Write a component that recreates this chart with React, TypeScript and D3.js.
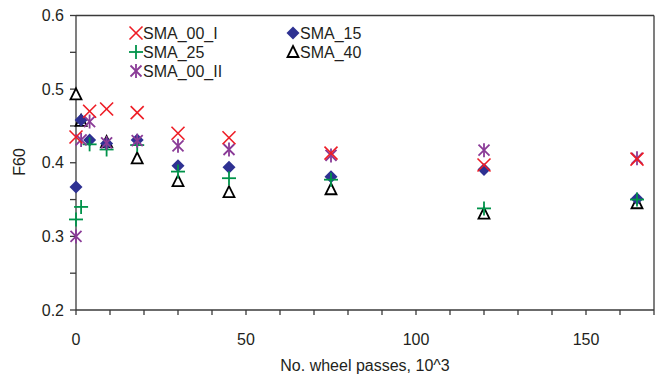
import React from "react";
import * as d3 from "d3";

const W = 656, H = 376;
const X0 = 76, X1 = 654, Y0 = 310, Y1 = 15.5;

const seriesNames = ["SMA_00_I", "SMA_15", "SMA_25", "SMA_40", "SMA_00_II"];
const seriesColors = ["#ee1c25", "#2e3192", "#00934a", "#000000", "#8a3b97"];

const sma00IPasses = [0, 4, 9, 18, 30, 45, 75, 120, 165];
const sma00IValues = [0.435, 0.470, 0.473, 0.468, 0.440, 0.434, 0.413, 0.397, 0.405];

const sma15Passes = [0, 1.5, 4, 9, 18, 30, 45, 75, 120, 165];
const sma15Values = [0.367, 0.458, 0.431, 0.426, 0.431, 0.396, 0.394, 0.381, 0.391, 0.351];

const sma25Passes = [0, 1.5, 4, 9, 18, 30, 45, 75, 120, 165];
const sma25Values = [0.323, 0.340, 0.425, 0.418, 0.424, 0.388, 0.379, 0.377, 0.338, 0.350];

const sma40Passes = [0, 1.5, 9, 18, 30, 45, 75, 120, 165];
const sma40Values = [0.493, 0.457, 0.428, 0.406, 0.375, 0.360, 0.364, 0.331, 0.345];

const sma00IIPasses = [0, 1.5, 4, 9, 18, 30, 45, 75, 120, 165];
const sma00IIValues = [0.300, 0.431, 0.456, 0.427, 0.430, 0.423, 0.418, 0.410, 0.417, 0.406];

const xTicks = [0, 50, 100, 150];
const yTicks = [0.2, 0.3, 0.4, 0.5, 0.6];

const xScale = d3.scaleLinear().domain([0, 170]).range([X0, X1]);
const yScale = d3.scaleLinear().domain([0.2, 0.6]).range([Y0, Y1]);

function Marker({ kind, x, y, color }: { kind: number; x: number; y: number; color: string }) {
  const s = 6.5;
  if (kind === 0) {
    return (
      <g stroke={color} strokeWidth={1.6} fill="none">
        <line x1={x - s} y1={y - s} x2={x + s} y2={y + s} />
        <line x1={x - s} y1={y + s} x2={x + s} y2={y - s} />
      </g>
    );
  }
  if (kind === 1) {
    const d = 6.5;
    return <path d={`M${x},${y - d}L${x + d},${y}L${x},${y + d}L${x - d},${y}Z`} fill={color} />;
  }
  if (kind === 2) {
    return (
      <g stroke={color} strokeWidth={1.8}>
        <line x1={x - 7} y1={y} x2={x + 7} y2={y} />
        <line x1={x} y1={y - 7} x2={x} y2={y + 7} />
      </g>
    );
  }
  if (kind === 3) {
    return (
      <path
        d={`M${x},${y - 6}L${x + 5.5},${y + 5}L${x - 5.5},${y + 5}Z`}
        fill="white"
        stroke={color}
        strokeWidth={1.8}
      />
    );
  }
  return (
    <g stroke={color} strokeWidth={1.8}>
      <line x1={x - 5.5} y1={y - 5.5} x2={x + 5.5} y2={y + 5.5} />
      <line x1={x - 5.5} y1={y + 5.5} x2={x + 5.5} y2={y - 5.5} />
      <line x1={x} y1={y - 7} x2={x} y2={y + 7} />
    </g>
  );
}

export default function App() {
  const series = [
    { p: sma00IPasses, v: sma00IValues },
    { p: sma15Passes, v: sma15Values },
    { p: sma25Passes, v: sma25Values },
    { p: sma40Passes, v: sma40Values },
    { p: sma00IIPasses, v: sma00IIValues },
  ];
  const minorY = d3.range(0.2, 0.6001, 0.05);
  const minorX = d3.range(0, 171, 10);
  const axisColor = "#3a3a3a";
  const textColor = "#231f20";
  const font = "Liberation Sans, Arial, sans-serif";
  const legend = [
    { i: 0, x: 136, y: 33 },
    { i: 1, x: 293, y: 33 },
    { i: 2, x: 136, y: 52 },
    { i: 3, x: 293, y: 52 },
    { i: 4, x: 136, y: 71 },
  ];
  const drawOrder = [3, 1, 2, 4, 0];
  return (
    <svg width={W} height={H} style={{ position: "absolute", left: 0, top: 0 }}>
      <rect x={0} y={0} width={W} height={H} fill="white" />
      {/* frame */}
      <line x1={X0} y1={Y1} x2={X1} y2={Y1} stroke={axisColor} strokeWidth={1.3} />
      <line x1={X1} y1={Y1} x2={X1} y2={Y0} stroke={axisColor} strokeWidth={1.3} />
      <line x1={X0} y1={Y1} x2={X0} y2={Y0} stroke={axisColor} strokeWidth={1.3} />
      <line x1={X0} y1={Y0} x2={X1} y2={Y0} stroke={axisColor} strokeWidth={1.3} />
      {minorY.map((t, i) => (
        <line key={"yt" + i} x1={X0 - 6} x2={X0} y1={yScale(t)} y2={yScale(t)} stroke={axisColor} strokeWidth={1.3} />
      ))}
      {minorX.map((t, i) => (
        <line key={"xt" + i} x1={xScale(t)} x2={xScale(t)} y1={Y0} y2={Y0 + 5} stroke={axisColor} strokeWidth={1.3} />
      ))}
      {yTicks.map((t) => (
        <text key={"yl" + t} x={64} y={yScale(t)} dy="0.35em" textAnchor="end" fontSize={16} fontFamily={font} fill={textColor}>
          {t.toFixed(1)}
        </text>
      ))}
      {xTicks.map((t) => (
        <text key={"xl" + t} x={xScale(t)} y={339} dy="0.35em" textAnchor="middle" fontSize={16} fontFamily={font} fill={textColor}>
          {t}
        </text>
      ))}
      <text x={365} y={365} dy="0.35em" textAnchor="middle" fontSize={16} fontFamily={font} fill={textColor}>
        No. wheel passes, 10^3
      </text>
      <text transform={`translate(19,${162}) rotate(-90)`} dy="0.35em" textAnchor="middle" fontSize={16} fontFamily={font} fill={textColor}>
        F60
      </text>
      {drawOrder.map((si) => (
        <g key={"s" + si}>
          {series[si].p.map((p, j) => (
            <Marker key={j} kind={si} x={xScale(p)} y={yScale(series[si].v[j])} color={seriesColors[si]} />
          ))}
        </g>
      ))}
      {legend.map((l) => (
        <g key={"lg" + l.i}>
          <Marker kind={l.i} x={l.x} y={l.y} color={seriesColors[l.i]} />
          <text x={l.x + 7} y={l.y} dy="0.35em" fontSize={16} fontFamily={font} fill={textColor}>
            {seriesNames[l.i]}
          </text>
        </g>
      ))}
    </svg>
  );
}
